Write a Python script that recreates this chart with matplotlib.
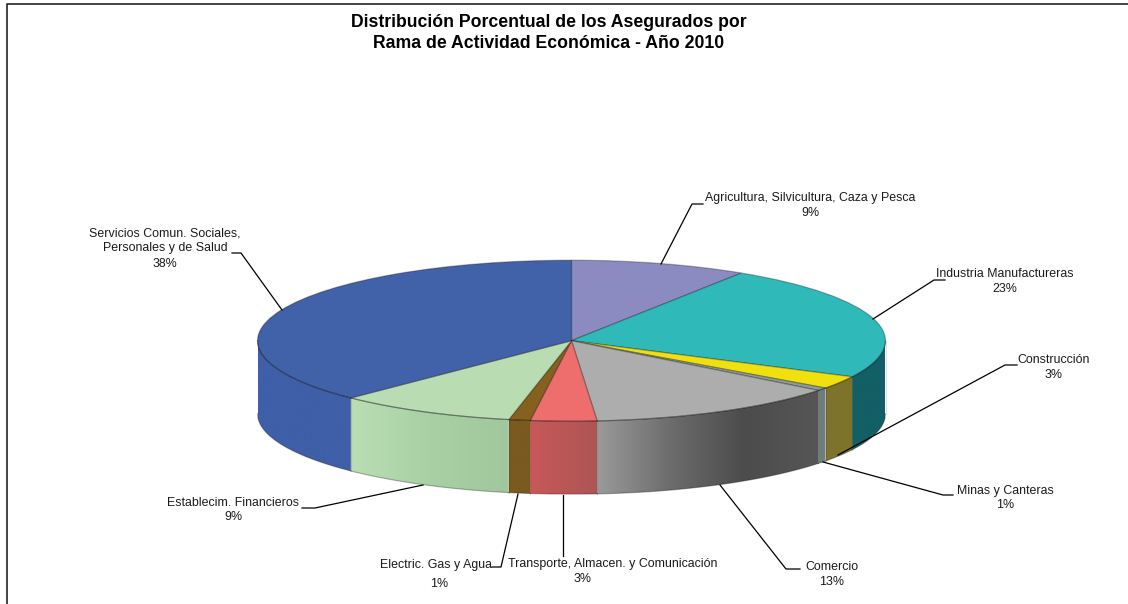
import numpy as np
import matplotlib
matplotlib.use('Agg')
import matplotlib.pyplot as plt
from matplotlib.colors import LinearSegmentedColormap
from matplotlib.patches import Polygon

plt.rcParams['font.family'] = ['Liberation Sans', 'DejaVu Sans']

# datos
ramas = ['Agricultura, Silvicultura, Caza y Pesca', 'Industria Manufactureras', 'Construcción',
         'Minas y Canteras', 'Comercio', 'Transporte, Almacen. y Comunicación',
         'Electric. Gas y Agua', 'Establecim. Financieros',
         'Servicios Comun. Sociales,\nPersonales y de Salud']
valores = [9.1, 23.3, 2.6, 0.6, 13.1, 3.4, 1.1, 9.2, 37.6]

colores = ['#8b8bc2', '#2fb9b9', '#f0e010', '#8c9c9c', '#adadad', '#ee6e6e', '#85601f', '#b9dcb2', '#4161a9']
# colores del costado de cada porcion, de izquierda a derecha
lados = [['#6a6a9a', '#6a6a9a'], ['#125f66', '#125f66'], ['#7d7330', '#7d7328'], ['#6e7d7d', '#6e7d7d'],
         ['#9a9a9a', '#6c6c6c', '#4c4c4c', '#565656'], ['#c95858', '#ad5555'], ['#7a5a20', '#7a5a20'],
         ['#bbdeb4', '#a8d0a4', '#a0c89c'], ['#3f5fa8', '#3f5fa8']]

# posicion del grafico en pixeles
cx, cy = 571.5, 340.7
rx, ry = 314.0, 80.5
prof = 73.0 / ry

W, H = 1128, 604
fig = plt.figure(figsize=(W/100, H/100), dpi=100)
# el eje incluye el costado, asi la imagen del degradado no se recorta
ax = fig.add_axes([(cx-rx)/W, 1-(cy+ry+73.0)/H, 2*rx/W, (2*ry+73.0)/H])

cuñas, _ = ax.pie(valores, colors=colores, startangle=90, counterclock=False, radius=1,
                  wedgeprops=dict(edgecolor=(0, 0, 0, 0.28), linewidth=0.9))
for c in cuñas:
    c.set_zorder(5)

# costados (solo la mitad de adelante)
acum = np.cumsum([0] + valores) / sum(valores) * 360
for i in range(len(valores)):
    a1 = max(acum[i], 90)
    a2 = min(acum[i+1], 270)
    if a2 <= a1:
        continue
    t = np.radians(np.linspace(a1, a2, 80))
    x = np.sin(t)
    y = np.cos(t)
    pts = np.r_[np.c_[x, y], np.c_[x[::-1], y[::-1]-prof]]
    poli = Polygon(pts, closed=True, facecolor='none', edgecolor='none', transform=ax.transData)
    ax.add_patch(poli)
    cm = LinearSegmentedColormap.from_list('lado%d' % i, lados[i])
    im = ax.imshow(np.linspace(0, 1, 200).reshape(1, -1), cmap=cm, aspect='auto',
                   extent=[x.min(), x.max(), -1-prof, 1], zorder=2)
    im.set_clip_path(poli)
    ax.plot(x, y-prof, color=(0, 0, 0, 0.3), lw=0.8, zorder=3, clip_on=False)
    ax.plot(x, y, color=(0, 0, 0, 0.3), lw=0.8, zorder=6, clip_on=False)
    ax.plot([x[0], x[0]], [y[0], y[0]-prof], color=(0, 0, 0, 0.12), lw=0.8, zorder=3, clip_on=False)
ax.set_aspect('auto')
ax.set_xlim(-1, 1)
ax.set_ylim(-1-prof, 1)
ax.axis('off')

# capa en pixeles para marco, titulo y etiquetas
capa = fig.add_axes([0, 0, 1, 1], zorder=10)
capa.set_xlim(0, W)
capa.set_ylim(H, 0)
capa.axis('off')

capa.plot([7, 7, W], [H, 4, 4], color='#222222', lw=1.2)
capa.text(549, 33, 'Distribución Porcentual de los Asegurados por\nRama de Actividad Económica - Año 2010',
          ha='center', va='center', fontsize=12.7, fontweight='bold', linespacing=1.27, color='black')

# lineas guia
guias = [[(703, 204), (692, 204), (661, 264)],
         [(945, 280), (934, 280), (873, 319)],
         [(1017, 365), (1005, 365), (838, 455)],
         [(953, 495), (943, 495), (823, 462)],
         [(800, 569), (786, 569), (720, 485)],
         [(563, 556), (563, 495)],
         [(492, 567), (501, 567), (518, 494)],
         [(302, 508), (315, 508), (423, 485)],
         [(232, 253), (241, 253), (282, 310)]]
for g in guias:
    g = np.array(g)
    capa.plot(g[:, 0], g[:, 1], color='black', lw=0.9)

# etiquetas: centro del nombre y centro del porcentaje
pos_nombre = [(810, 198), (1005, 274), (1054, 360), (1005, 491), (832, 567), (613, 564), (436, 565), (233, 503), (165, 241)]
pos_pct = [(810, 213), (1005, 289), (1054, 375), (1005, 505), (832, 582), (583, 579), (439, 584), (233, 517), (165, 264)]
for r, v, pn, pp in zip(ramas, valores, pos_nombre, pos_pct):
    capa.text(pn[0], pn[1], r, ha='center', va='center', fontsize=8.9, color='#1a1a1a', linespacing=1.3)
    capa.text(pp[0], pp[1], '%d%%' % round(v), ha='center', va='center', fontsize=8.9, color='#1a1a1a')

fig.savefig('out.png', dpi=100, facecolor='white')
